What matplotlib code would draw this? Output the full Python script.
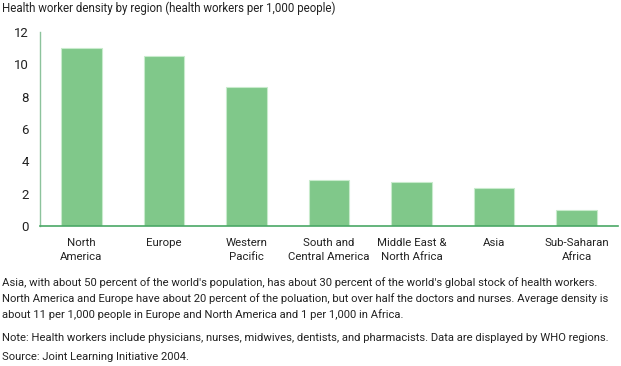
import matplotlib
matplotlib.use("Agg")
from matplotlib import pyplot as plt

# data
regions = ["North\nAmerica", "Europe", "Western\nPacific", "South and\nCentral America",
           "Middle East &\nNorth Africa", "Asia", "Sub-Saharan\nAfrica"]
density = [11.0, 10.5, 8.6, 2.85, 2.75, 2.35, 1.0]
yticks = [0, 2, 4, 6, 8, 10, 12]

title = "Health worker density by region (health workers per 1,000 people)"
para = ["Asia, with about 50 percent of the world's population, has about 30 percent of the world's global stock of health workers.",
        "North America and Europe have about 20 percent of the poluation, but over half the doctors and nurses. Average density is",
        "about 11 per 1,000 people in Europe and North America and 1 per 1,000 in Africa."]
note = "Note: Health workers include physicians, nurses, midwives, dentists, and pharmacists. Data are displayed by WHO regions."
source = "Source: Joint Learning Initiative 2004."

plt.rcParams['font.family'] = ['Roboto', 'DejaVu Sans']
txt = '#222222'
fs = 8.1

W, H = 621, 366
fig = plt.figure(figsize=(W/100, H/100), dpi=100)
ax = fig.add_axes([40/W, 140/H, 578/W, 194/H])

x = list(range(len(regions)))
ax.bar(x, density, width=0.49, color='#80c88a', edgecolor='#c8ebcc', linewidth=0.8, zorder=2)

ax.set_xlim(-0.5, 6.5)
ax.set_ylim(0, 12)
ax.set_yticks(yticks)
ax.set_xticks(x)
ax.set_xticklabels(regions, fontsize=8.2, color=txt, linespacing=1.45)
ax.tick_params(axis='y', length=0, pad=8, labelsize=9.5, labelcolor=txt)
ax.tick_params(axis='x', length=0, pad=9)

for s in ['top', 'right']:
    ax.spines[s].set_visible(False)
ax.spines['left'].set_color('#8cc39c')
ax.spines['left'].set_linewidth(1)
ax.spines['bottom'].set_color('#4aa866')
ax.spines['bottom'].set_linewidth(1.2)
ax.spines['bottom'].set_zorder(3)

fig.text(2/W, 1 - 8/H, title, fontsize=8.3, color=txt, va='center', ha='left')
for i, line in enumerate(para):
    fig.text(2/W, 1 - (283 + 16*i)/H, line, fontsize=fs, color=txt, va='center', ha='left')
fig.text(2/W, 1 - 338/H, note, fontsize=fs, color=txt, va='center', ha='left')
fig.text(2/W, 1 - 357/H, source, fontsize=fs, color=txt, va='center', ha='left')

fig.savefig("out.png", dpi=100)
